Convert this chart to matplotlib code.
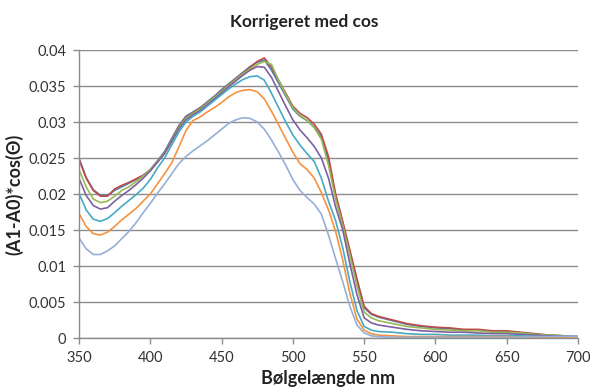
import matplotlib
matplotlib.use("Agg")
import matplotlib.pyplot as plt

wavelength = [350, 355, 360, 365, 370, 375, 380, 385, 390, 395,
              400, 405, 410, 415, 420, 425, 430, 435, 440, 445,
              450, 455, 460, 465, 470, 475, 480, 485, 490, 495,
              500, 505, 510, 515, 520, 525, 530, 535, 540, 545,
              550, 555, 560,
              570, 580, 590, 600, 610, 620, 630, 640, 650, 660, 670, 680, 690, 700]

s1_blue = [0.0250, 0.0223, 0.0206, 0.0198, 0.0198, 0.0205, 0.0210, 0.0215, 0.0220, 0.0226,
           0.0234, 0.0246, 0.0259, 0.0277, 0.0295, 0.0308, 0.0314, 0.0320, 0.0328, 0.0336,
           0.0345, 0.0353, 0.0361, 0.0369, 0.0377, 0.0383, 0.0386, 0.0372, 0.0354, 0.0336,
           0.0318, 0.0308, 0.0302, 0.0293, 0.0279, 0.0246, 0.0197, 0.0159, 0.0119, 0.0079,
           0.0042, 0.0033, 0.0029,
           0.0024, 0.0019, 0.0016, 0.0014, 0.0013, 0.0011, 0.0011, 0.0009, 0.0009, 0.0007, 0.0005, 0.0004, 0.0003, 0.0003]

s2_red = [0.0248, 0.0222, 0.0205, 0.0197, 0.0197, 0.0207, 0.0212, 0.0216, 0.0221, 0.0226,
          0.0233, 0.0245, 0.0257, 0.0275, 0.0293, 0.0306, 0.0313, 0.0319, 0.0327, 0.0334,
          0.0343, 0.0352, 0.0360, 0.0368, 0.0376, 0.0384, 0.0389, 0.0376, 0.0358, 0.0340,
          0.0322, 0.0312, 0.0306, 0.0297, 0.0283, 0.0252, 0.0200, 0.0162, 0.0122, 0.0082,
          0.0044, 0.0034, 0.0030,
          0.0025, 0.0020, 0.0017, 0.0015, 0.0014, 0.0012, 0.0012, 0.0010, 0.0010, 0.0008, 0.0006, 0.0004, 0.0003, 0.0003]

s3_green = [0.0234, 0.0210, 0.0193, 0.0188, 0.0190, 0.0197, 0.0205, 0.0210, 0.0217, 0.0225,
            0.0234, 0.0245, 0.0257, 0.0274, 0.0292, 0.0305, 0.0312, 0.0318, 0.0326, 0.0334,
            0.0342, 0.0351, 0.0359, 0.0367, 0.0374, 0.0380, 0.0384, 0.0380, 0.0358, 0.0338,
            0.0320, 0.0309, 0.0302, 0.0292, 0.0276, 0.0240, 0.0193, 0.0156, 0.0115, 0.0072,
            0.0036, 0.0028, 0.0024,
            0.0020, 0.0016, 0.0014, 0.0012, 0.0011, 0.0010, 0.0010, 0.0008, 0.0008, 0.0007, 0.0005, 0.0004, 0.0003, 0.0003]

s4_purple = [0.0222, 0.0198, 0.0184, 0.0179, 0.0181, 0.0190, 0.0198, 0.0205, 0.0213, 0.0222,
             0.0232, 0.0244, 0.0256, 0.0273, 0.0290, 0.0303, 0.0310, 0.0316, 0.0324, 0.0332,
             0.0340, 0.0349, 0.0357, 0.0365, 0.0372, 0.0377, 0.0376, 0.0362, 0.0342, 0.0322,
             0.0303, 0.0289, 0.0278, 0.0266, 0.0250, 0.0222, 0.0182, 0.0150, 0.0103, 0.0060,
             0.0028, 0.0021, 0.0018,
             0.0015, 0.0012, 0.0010, 0.0009, 0.0008, 0.0008, 0.0007, 0.0006, 0.0006, 0.0005, 0.0004, 0.0003, 0.0002, 0.0003]

s5_teal = [0.0201, 0.0178, 0.0165, 0.0162, 0.0166, 0.0174, 0.0183, 0.0191, 0.0199, 0.0208,
           0.0220, 0.0236, 0.0250, 0.0268, 0.0286, 0.0300, 0.0308, 0.0314, 0.0322, 0.0330,
           0.0338, 0.0346, 0.0353, 0.0359, 0.0363, 0.0364, 0.0358, 0.0340, 0.0320, 0.0300,
           0.0282, 0.0268, 0.0256, 0.0245, 0.0222, 0.0190, 0.0163, 0.0125, 0.0078, 0.0038,
           0.0016, 0.0011, 0.0009,
           0.0008, 0.0006, 0.0005, 0.0005, 0.0004, 0.0004, 0.0004, 0.0003, 0.0003, 0.0003, 0.0002, 0.0002, 0.0002, 0.0002]

s6_orange = [0.0173, 0.0155, 0.0145, 0.0143, 0.0147, 0.0155, 0.0164, 0.0172, 0.0180, 0.0190,
             0.0200, 0.0214, 0.0228, 0.0243, 0.0265, 0.0288, 0.0302, 0.0307, 0.0314, 0.0320,
             0.0327, 0.0335, 0.0341, 0.0344, 0.0345, 0.0342, 0.0332, 0.0315, 0.0296, 0.0277,
             0.0258, 0.0242, 0.0234, 0.0222, 0.0202, 0.0178, 0.0148, 0.0108, 0.0062, 0.0026,
             0.0011, 0.0006, 0.0004,
             0.0003, 0.0002, 0.0002, 0.0002, 0.0002, 0.0002, 0.0002, 0.0002, 0.0002, 0.0001, 0.0001, 0.0001, 0.0001, 0.0002]

s7_lightblue = [0.0139, 0.0124, 0.0116, 0.0116, 0.0121, 0.0128, 0.0138, 0.0148, 0.0160, 0.0174,
                0.0187, 0.0201, 0.0214, 0.0228, 0.0242, 0.0252, 0.0260, 0.0267, 0.0274, 0.0282,
                0.0290, 0.0298, 0.0303, 0.0306, 0.0305, 0.0300, 0.0290, 0.0275, 0.0258, 0.0240,
                0.0220, 0.0205, 0.0195, 0.0186, 0.0172, 0.0143, 0.0110, 0.0078, 0.0044, 0.0018,
                0.0007, 0.0003, 0.0002,
                0.0001, 0.0001, 0.0001, 0.0001, 0.0001, 0.0001, 0.0001, 0.0001, 0.0001, 0.0001, 0.0002, 0.0002, 0.0002, 0.0003]

series = [s1_blue, s2_red, s3_green, s4_purple, s5_teal, s6_orange, s7_lightblue]
colors = ["#4A7EBB", "#BE4B48", "#98B954", "#7D60A0", "#46AAC5", "#F69240", "#97AFD6"]

x_ticks = [350, 400, 450, 500, 550, 600, 650, 700]
y_ticks = [0, 0.005, 0.01, 0.015, 0.02, 0.025, 0.03, 0.035, 0.04]
y_tick_labels = ["0", "0.005", "0.01", "0.015", "0.02", "0.025", "0.03", "0.035", "0.04"]

title = "Korrigeret med cos"
x_label = "Bølgelængde nm"
y_label = "(A1-A0)*cos(Θ)"

plt.rcParams['font.family'] = ['Lato', 'DejaVu Sans']

fig = plt.figure(figsize=(5.9, 3.91), dpi=100)
ax = fig.add_axes([79/590, 1 - 338/391, (578 - 79)/590, (338 - 50)/391])

for ys, c in zip(series, colors):
    ax.plot(wavelength, ys, color=c, lw=1.2, solid_joinstyle='round')

ax.set_xlim(350, 700)
ax.set_ylim(0, 0.04)
ax.set_xticks(x_ticks)
ax.set_yticks(y_ticks)
ax.set_yticklabels(y_tick_labels)
ax.grid(axis='y', color='#8C8C8C', lw=1.0)
ax.set_axisbelow(True)
for s in ['top', 'right']:
    ax.spines[s].set_visible(False)
for s in ['left', 'bottom']:
    ax.spines[s].set_color('#8C8C8C')
    ax.spines[s].set_linewidth(1.0)
ax.tick_params(axis='both', colors='#8C8C8C', labelcolor='#333333', labelsize=10.5, length=4, width=1)
ax.tick_params(axis='y', pad=5)
ax.tick_params(axis='x', pad=5)

fig.text(304/590, 1 - 22/391, title, fontsize=12.5, fontweight='bold', color='#222222',
         ha='center', va='center')
ax.set_xlabel(x_label, fontsize=13, fontweight='bold', color='#222222', labelpad=4)
ax.set_ylabel(y_label, fontsize=13, fontweight='bold', color='#222222', labelpad=4)

fig.savefig("out.png", dpi=100)
